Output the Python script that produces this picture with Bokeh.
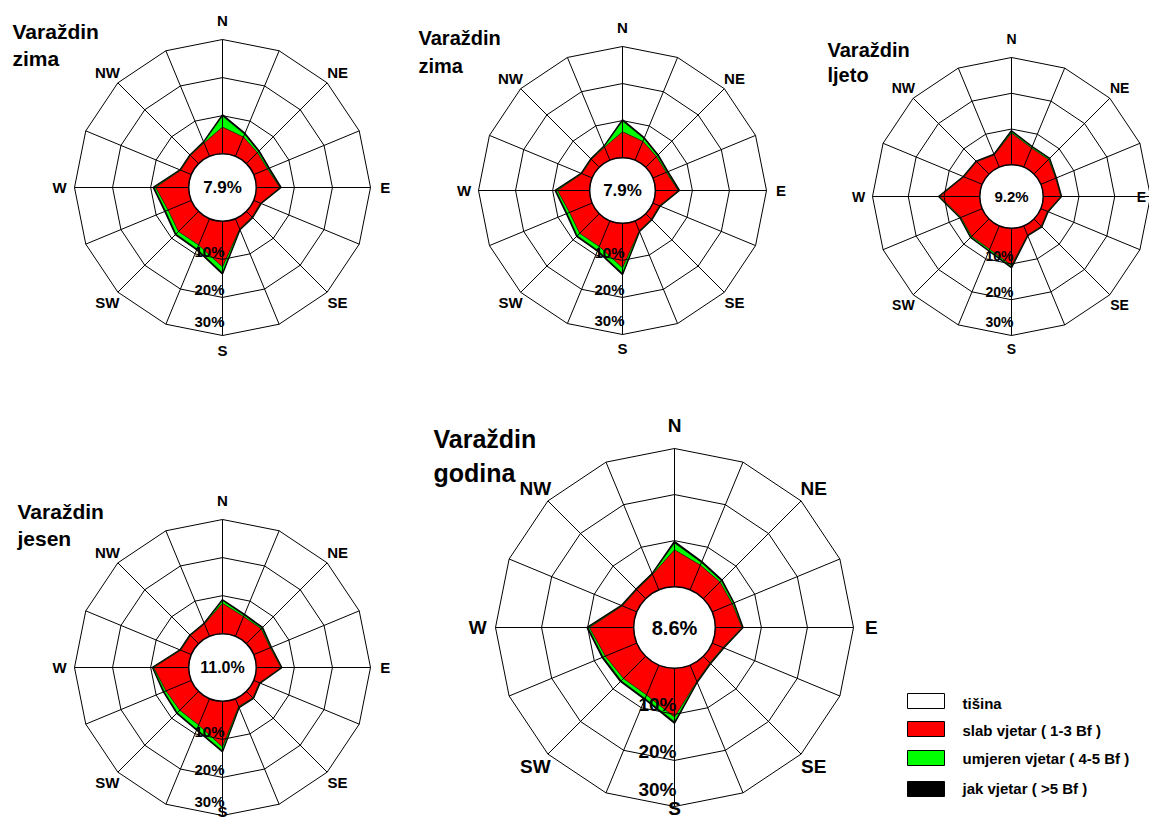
import numpy as np
from bokeh.plotting import figure
from bokeh.models import Range1d
from bokeh.core.properties import value
from bokeh.embed import file_html
from bokeh.resources import INLINE

# ---------------- data ----------------
directions = ["N", "NNE", "NE", "ENE", "E", "ESE", "SE", "SSE",
              "S", "SSW", "SW", "WSW", "W", "WNW", "NW", "NNW"]
label_dirs = ["N", "NE", "E", "SE", "S", "SW", "W", "NW"]
ring_labels = ["10%", "20%", "30%"]

# winter (zima) – % per direction
zima_slab    = [7.0, 5.5, 4.1, 3.9, 6.2, 1.9, 2.1, 2.9, 12.0, 7.5, 7.5, 6.6, 8.7, 3.0, 3.0, 3.8]
zima_umjeren = [2.9, 0.8, 0.4, 0.3, 0.1, 0.1, 0.1, 0.1, 1.5, 1.1, 0.9, 0.7, 0.4, 0.1, 0.1, 0.2]
zima_jak     = [0.3, 0.2, 0.2, 0.2, 0.2, 0.1, 0.1, 0.1, 0.3, 0.2, 0.2, 0.2, 0.2, 0.1, 0.1, 0.1]
zima_calm = 7.9

# summer (ljeto)
ljeto_slab    = [8.9, 5.8, 5.8, 4.5, 4.9, 2.0, 2.9, 2.8, 10.4, 7.1, 6.9, 6.4, 11.2, 5.5, 4.9, 3.7]
ljeto_umjeren = [0.4, 0.3, 0.3, 0.1, 0.1, 0.1, 0.1, 0.1, 0.4, 0.4, 0.3, 0.2, 0.2, 0.1, 0.1, 0.1]
ljeto_jak     = [0.2, 0.1, 0.1, 0.1, 0.1, 0.1, 0.1, 0.1, 0.2, 0.1, 0.1, 0.1, 0.1, 0.1, 0.1, 0.1]
ljeto_calm = 9.2

# autumn (jesen)
jesen_slab    = [8.0, 5.6, 5.5, 4.7, 6.5, 1.6, 2.4, 2.2, 12.0, 7.5, 7.0, 7.2, 9.2, 3.0, 3.0, 3.5]
jesen_umjeren = [0.7, 0.4, 0.3, 0.2, 0.1, 0.1, 0.1, 0.2, 1.0, 1.2, 0.9, 0.5, 0.2, 0.1, 0.1, 0.1]
jesen_jak     = [0.2, 0.2, 0.2, 0.1, 0.1, 0.1, 0.1, 0.1, 0.2, 0.2, 0.2, 0.2, 0.1, 0.1, 0.1, 0.1]
jesen_calm = 11.0

# year (godina)
godina_slab    = [8.0, 5.8, 5.1, 4.7, 5.8, 2.5, 2.0, 3.8, 10.6, 7.0, 6.8, 7.4, 9.6, 3.4, 2.7, 3.6]
godina_umjeren = [1.5, 0.6, 0.4, 0.3, 0.1, 0.1, 0.1, 0.1, 1.0, 0.8, 0.7, 0.5, 0.3, 0.1, 0.1, 0.1]
godina_jak     = [0.3, 0.2, 0.2, 0.1, 0.1, 0.1, 0.1, 0.1, 0.3, 0.2, 0.2, 0.2, 0.2, 0.1, 0.1, 0.1]
godina_calm = 8.6

station = "Varaždin"
legend_labels = ["tišina", "slab vjetar ( 1-3 Bf )", "umjeren vjetar ( 4-5 Bf )", "jak vjetar ( >5 Bf )"]
legend_colors = ["white", "#FF0000", "#00FF00", "black"]

FONT = "Liberation Sans"
RED = "#FF0000"
GREEN = "#00FF00"

W, H = 1149, 821

# ---------------- figure ----------------
p = figure(width=W, height=H, x_range=Range1d(0, W), y_range=Range1d(H, 0),
           output_backend="svg", toolbar_location=None, min_border=0,
           x_axis_location=None, y_axis_location=None, background_fill_color="white",
           border_fill_color="white")
p.xgrid.visible = False
p.ygrid.visible = False
p.outline_line_color = None


def txt(x, y, s, size, align="center", baseline="middle"):
    p.text(x=[x], y=[y], text=[s], text_font=value(FONT), text_font_style="bold",
           text_font_size=value(f"{size}px"), text_align=align, text_baseline=baseline,
           text_color="black")


def rose(cx, cy, R, slab, umj, jak, calm, season, title_x, title_y, title_gap,
         fs_title, fs_dir, fs_ring, fs_calm):
    ang = np.deg2rad(np.arange(16) * 22.5)
    s, c = np.sin(ang), np.cos(ang)
    r0 = 0.228 * R
    k = (R - r0) / 30.0
    slab = np.array(slab)
    c1 = slab
    c2 = slab + np.array(umj)
    c3 = c2 + np.array(jak)

    def pts(v):
        r = r0 + v * k
        return list(cx + r * s), list(cy - r * c)

    x3, y3 = pts(c3)
    x2, y2 = pts(c2)
    x1, y1 = pts(c1)
    p.patch(x3, y3, fill_color="black", line_color="black", line_width=1.6)
    p.patch(x2, y2, fill_color=GREEN, line_color="black", line_width=0.6)
    p.patch(x1, y1, fill_color=RED, line_color="black", line_width=0.6)

    # grid rings (16-gons)
    xs, ys = [], []
    for i in range(1, 4):
        rr = r0 + i * (R - r0) / 3.0
        xs.append(list(cx + rr * s) + [cx + rr * s[0]])
        ys.append(list(cy - rr * c) + [cy - rr * c[0]])
    p.multi_line(xs, ys, line_color="black", line_width=1)
    # spokes
    p.segment(x0=cx + r0 * s, y0=cy - r0 * c, x1=cx + R * s, y1=cy - R * c,
              line_color="black", line_width=1)
    # calm circle
    p.circle(x=[cx], y=[cy], radius=r0, fill_color="white", line_color="black", line_width=1.5)
    txt(cx, cy, f"{calm:.1f}%", fs_calm)

    # direction labels (kept inside the page)
    for i, d in enumerate(label_dirs):
        a = np.deg2rad(i * 45)
        L = R * (1.13 if d == "N" else 1.1)
        lx = min(cx + L * np.sin(a), W - 8)
        ly = min(cy - L * np.cos(a), H - 0.62 * fs_dir - 1)
        txt(lx, ly, d, fs_dir)

    # ring labels along south spoke
    for f, lab in zip([0.43, 0.69, 0.905], ring_labels):
        txt(cx + 2, cy + f * R, lab, fs_ring, align="right")

    # title
    txt(title_x, title_y, station, fs_title, align="left", baseline="alphabetic")
    txt(title_x, title_y + title_gap, season, fs_title, align="left", baseline="alphabetic")


rose(222, 187, 148, zima_slab, zima_umjeren, zima_jak, zima_calm, "zima",
     12, 31, 27, 21, 15, 15, 17)
rose(622, 190, 144, zima_slab, zima_umjeren, zima_jak, zima_calm, "zima",
     418, 37, 28, 20, 15, 15, 17)
rose(1011, 196, 139, ljeto_slab, ljeto_umjeren, ljeto_jak, ljeto_calm, "ljeto",
     827, 49, 25, 20, 14, 14, 15)
rose(222, 667, 148, jesen_slab, jesen_umjeren, jesen_jak, jesen_calm, "jesen",
     17, 511, 27, 21, 15, 15, 16)
rose(674, 627, 179, godina_slab, godina_umjeren, godina_jak, godina_calm, "godina",
     433, 438, 34, 25, 19, 19, 20)

# ---------------- legend ----------------
box_tops = [693, 721, 750, 781]
text_y = [703, 730, 758, 788]
for top, col, lab, ty in zip(box_tops, legend_colors, legend_labels, text_y):
    p.quad(left=[907], right=[944], top=[top], bottom=[top + 15], fill_color=col,
           line_color="black", line_width=1)
    txt(962, ty, lab, 15, align="left")

open("out.html", "w").write(file_html(p, INLINE))
